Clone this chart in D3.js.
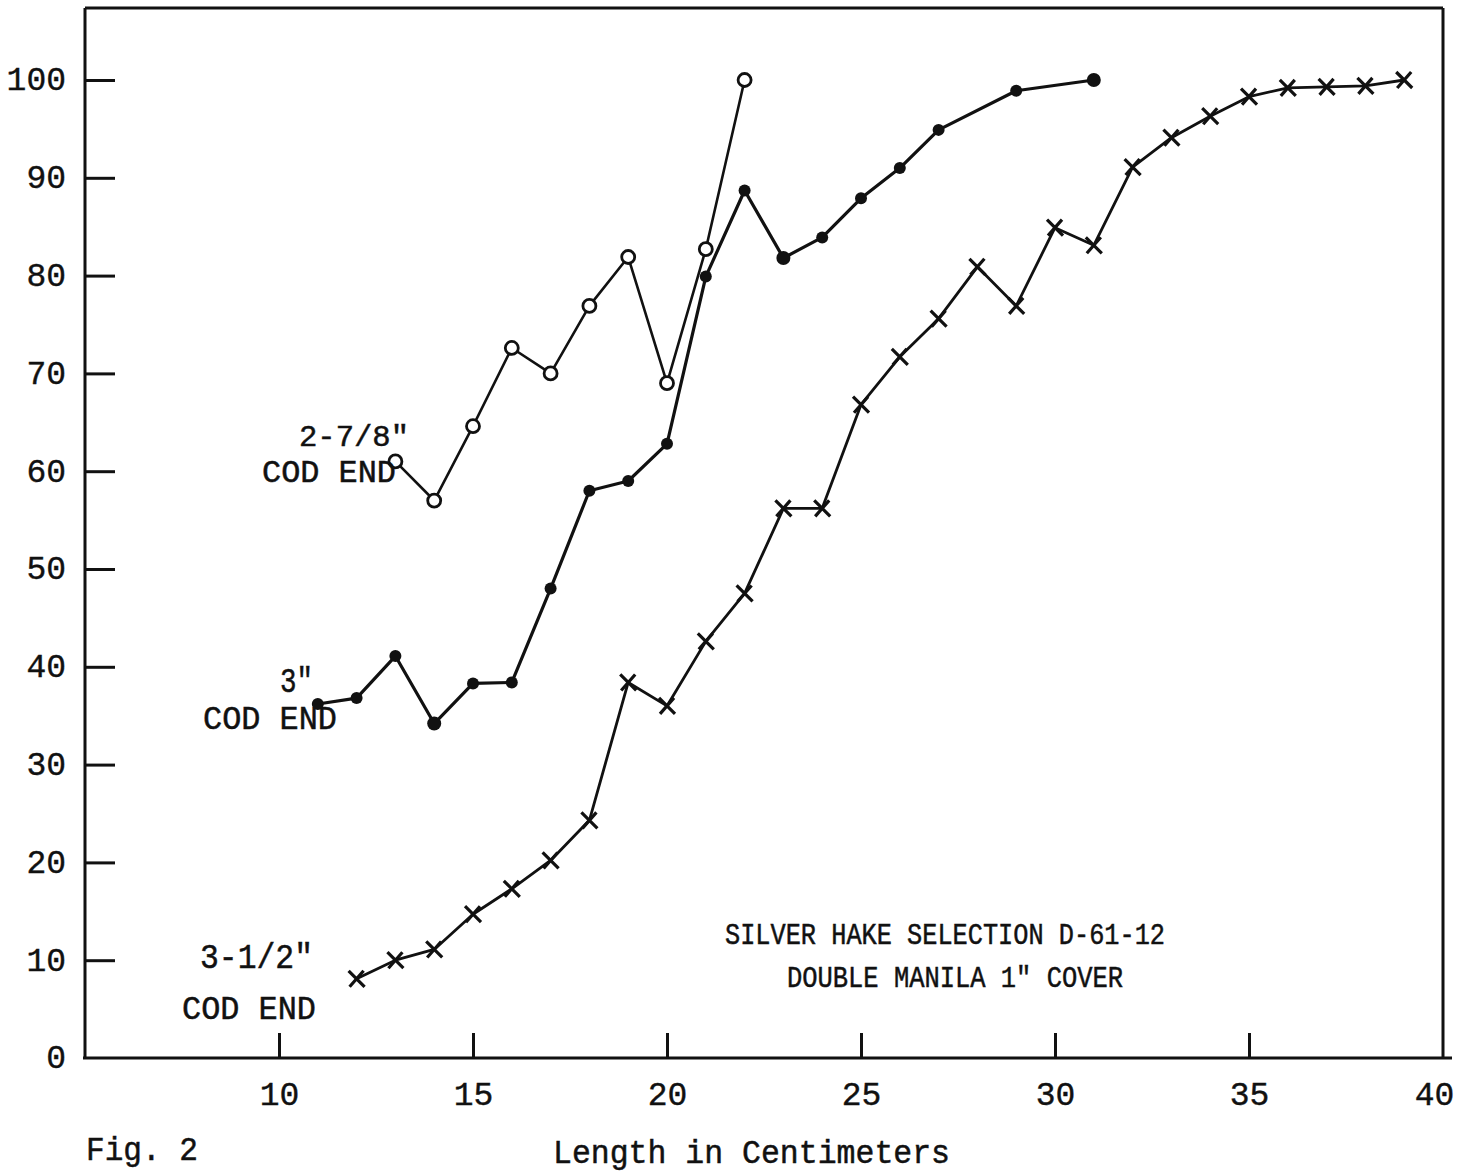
<!DOCTYPE html>
<html>
<head>
<meta charset="utf-8">
<script src="https://cdn.jsdelivr.net/npm/d3@7"></script>
<style>
  html, body { margin: 0; padding: 0; background: #fff; }
  svg text { font-family: "Liberation Mono", "Courier New", monospace; fill: #111; }
</style>
</head>
<body>
<div id="chart"></div>
<script>
// Silver hake selection D-61-12, percent retained by length

// 2-7/8" cod end (open circles)
const lengths278 = [13, 14, 15, 16, 17, 18, 19, 20, 21, 22];
const pct278 = [61.0, 57.0, 64.6, 72.6, 70.0, 76.9, 81.9, 69.0, 82.7, 100];

// 3" cod end (filled dots)
const lengths3 = [11, 12, 13, 14, 15, 16, 17, 18, 19, 20, 21, 22, 23, 24, 25, 26, 27, 29, 31];
const pct3 = [36.2, 36.8, 41.1, 34.2, 38.3, 38.4, 48.0, 58.0, 59.0, 62.8, 79.9, 88.7, 81.8, 83.9, 87.9, 91.0, 94.9, 98.9, 100];

// 3-1/2" cod end (crosses)
const lengths312 = [12, 13, 14, 15, 16, 17, 18, 19, 20, 21, 22, 23, 24, 25, 26, 27, 28, 29, 30, 31, 32, 33, 34, 35, 36, 37, 38, 39];
const pct312 = [8.1, 10.0, 11.1, 14.7, 17.3, 20.2, 24.3, 38.4, 36.0, 42.6, 47.5, 56.2, 56.2, 66.8, 71.7, 75.6, 80.9, 76.9, 84.9, 83.1, 91.1, 94.1, 96.3, 98.3, 99.2, 99.3, 99.4, 100];

const xTicks = [10, 15, 20, 25, 30, 35, 40];
const yTicks = [0, 10, 20, 30, 40, 50, 60, 70, 80, 90, 100];

const width = 1472;
const height = 1175;

const x = d3.scaleLinear().domain([5, 40]).range([85, 1443]);
const y = d3.scaleLinear().domain([0, 100]).range([1058, 80]);
const frameTop = 8;

const svg = d3.select('#chart')
  .append('svg')
  .attr('width', width)
  .attr('height', height)
  .attr('viewBox', `0 0 ${width} ${height}`);

// frame
const frame = svg.append('g')
  .attr('stroke', '#111')
  .attr('stroke-width', 3)
  .attr('fill', 'none');
frame.append('line').attr('x1', x(5)).attr('y1', frameTop).attr('x2', x(40)).attr('y2', frameTop);
frame.append('line').attr('x1', x(40)).attr('y1', frameTop).attr('x2', x(40)).attr('y2', y(0));
frame.append('line').attr('x1', x(5)).attr('y1', frameTop).attr('x2', x(5)).attr('y2', y(0));
frame.append('line').attr('x1', x(5) - 2).attr('y1', y(0)).attr('x2', x(40) + 9).attr('y2', y(0));

// y axis, ticks pointing inward
const yAxis = svg.append('g')
  .attr('transform', `translate(${x(5)},0)`)
  .call(d3.axisLeft(y).tickValues(yTicks).tickSize(-30).tickPadding(19));
yAxis.select('.domain').remove();
yAxis.selectAll('.tick line')
  .attr('stroke', '#111')
  .attr('stroke-width', 3)
  .attr('opacity', d => d === 0 ? 0 : 1);
yAxis.selectAll('.tick text')
  .attr('font-size', 33)
  .attr('font-family', '"Liberation Mono", monospace')
  .attr('fill', '#111')
  .attr('stroke', '#111')
  .attr('stroke-width', 0.4)
  .attr('dy', '0.3em');

// x axis, ticks pointing upward
const xAxis = svg.append('g')
  .attr('transform', `translate(0,${y(0)})`)
  .call(d3.axisBottom(x).tickValues(xTicks).tickSize(-25).tickPadding(24));
xAxis.select('.domain').remove();
xAxis.selectAll('.tick line')
  .attr('stroke', '#111')
  .attr('stroke-width', 3)
  .attr('opacity', d => d === 40 ? 0 : 1);
xAxis.selectAll('.tick text')
  .attr('font-size', 33)
  .attr('font-family', '"Liberation Mono", monospace')
  .attr('fill', '#111')
  .attr('stroke', '#111')
  .attr('stroke-width', 0.4)
  .attr('dx', d => d === 40 ? -9 : 0);

const line = d3.line()
  .x(d => x(d[0]))
  .y(d => y(d[1]));

const series = [
  { name: '278', pts: d3.zip(lengths278, pct278), width: 2.6 },
  { name: '3', pts: d3.zip(lengths3, pct3), width: 3.2 },
  { name: '312', pts: d3.zip(lengths312, pct312), width: 2.8 }
];

svg.append('g')
  .selectAll('path')
  .data(series)
  .enter()
  .append('path')
  .attr('d', d => line(d.pts))
  .attr('fill', 'none')
  .attr('stroke', '#111')
  .attr('stroke-width', d => d.width)
  .attr('stroke-linejoin', 'round');

// open circles
svg.append('g')
  .selectAll('circle')
  .data(series[0].pts)
  .enter()
  .append('circle')
  .attr('cx', d => x(d[0]))
  .attr('cy', d => y(d[1]))
  .attr('r', 6.5)
  .attr('fill', '#fff')
  .attr('stroke', '#111')
  .attr('stroke-width', 2.8);

// filled dots
svg.append('g')
  .selectAll('circle')
  .data(series[1].pts)
  .enter()
  .append('circle')
  .attr('cx', d => x(d[0]))
  .attr('cy', d => y(d[1]))
  .attr('r', d => d[0] === 31 || d[0] === 23 || d[0] === 14 ? 7 : 6)
  .attr('fill', '#111');

// crosses
const s = 8;
svg.append('g')
  .selectAll('path')
  .data(series[2].pts)
  .enter()
  .append('path')
  .attr('d', d => {
    const cx = x(d[0]), cy = y(d[1]);
    return `M${cx - s},${cy - s}L${cx + s},${cy + s}M${cx - s + 1},${cy + s}L${cx + s - 1},${cy - s}`;
  })
  .attr('stroke', '#111')
  .attr('stroke-width', 3.2)
  .attr('fill', 'none');

// annotations (len = printed width in px)
const notes = [
  { text: '2-7/8"', x: 299, y: 446, size: 30, len: 110 },
  { text: 'COD END', x: 262, y: 482, size: 31, len: 134 },
  { text: '3"', x: 280, y: 692, size: 35, len: 33 },
  { text: 'COD END', x: 203, y: 729, size: 33, len: 134 },
  { text: '3-1/2"', x: 200, y: 968, size: 35, len: 113 },
  { text: 'COD END', x: 182, y: 1019, size: 33, len: 134 },
  { text: 'SILVER HAKE SELECTION D-61-12', x: 725, y: 944, size: 30, len: 440 },
  { text: 'DOUBLE MANILA 1" COVER', x: 787, y: 987, size: 30, len: 336 },
  { text: 'Fig. 2', x: 86, y: 1160, size: 33, len: 112 },
  { text: 'Length in Centimeters', x: 553, y: 1163, size: 33, len: 397 }
];

svg.append('g')
  .selectAll('text')
  .data(notes)
  .enter()
  .append('text')
  .attr('x', d => d.x)
  .attr('y', d => d.y)
  .attr('font-size', d => d.size)
  .attr('textLength', d => d.len)
  .attr('lengthAdjust', 'spacingAndGlyphs')
  .attr('stroke', '#111')
  .attr('stroke-width', 0.5)
  .attr('text-anchor', 'start')
  .text(d => d.text);
</script>
</body>
</html>
